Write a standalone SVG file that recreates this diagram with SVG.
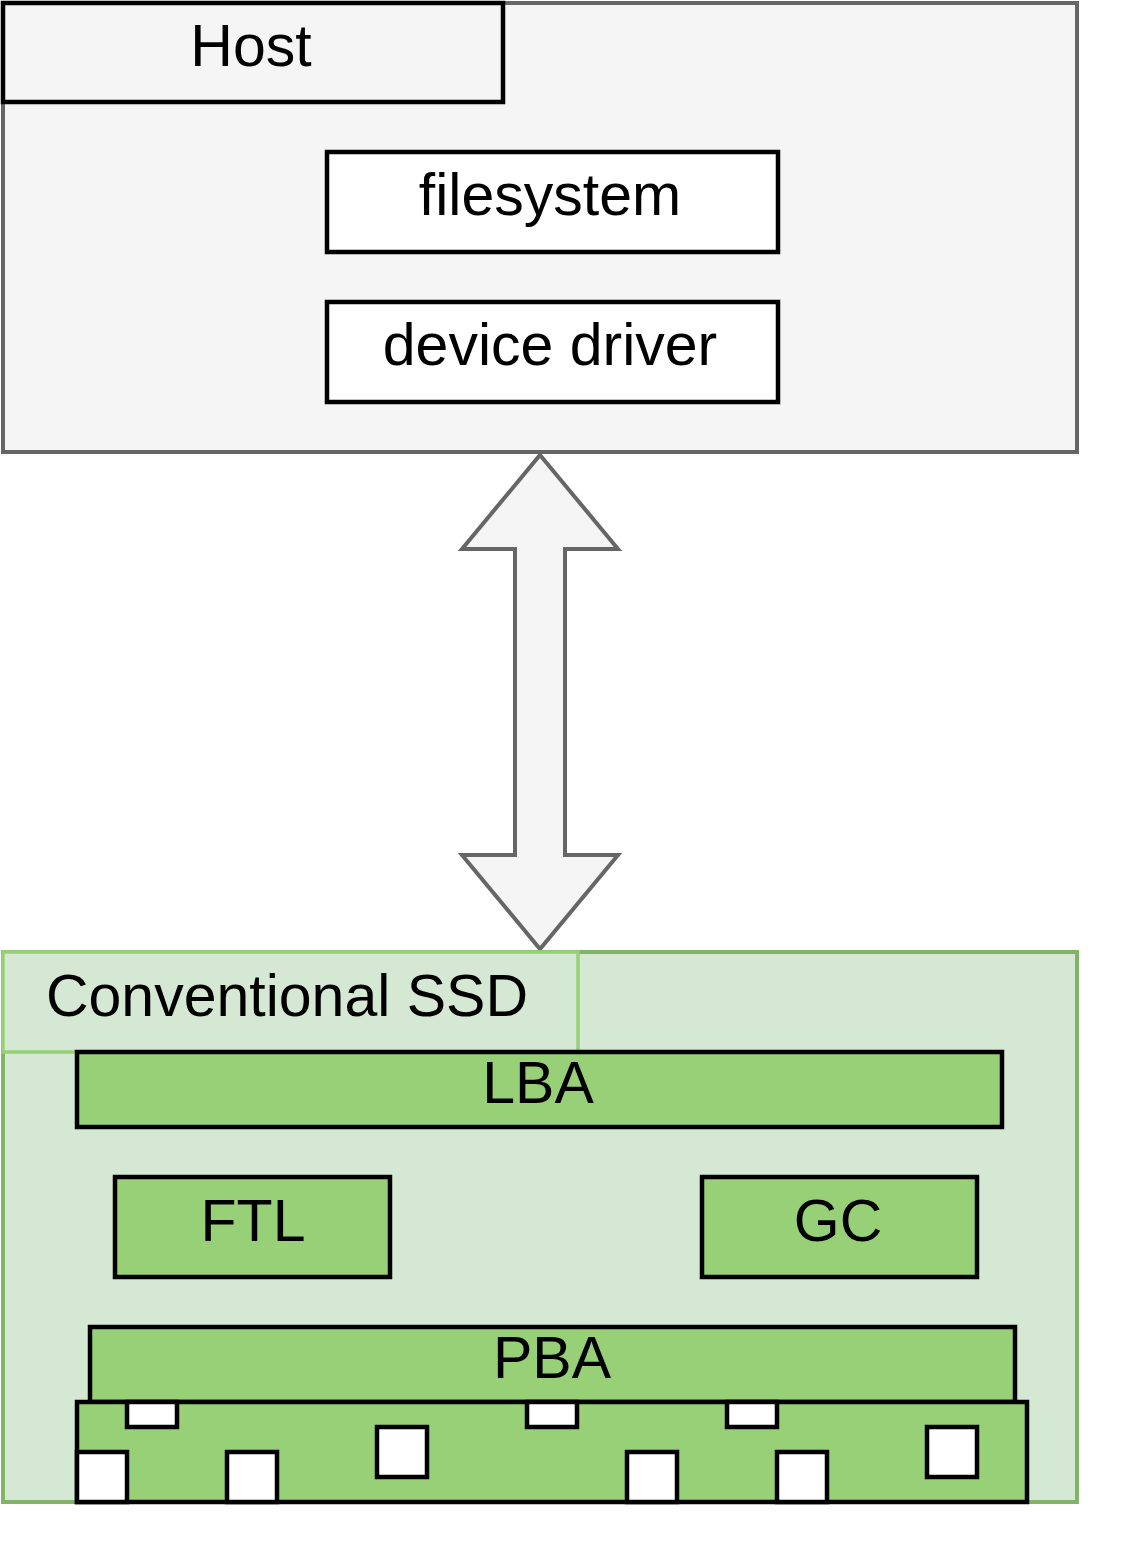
<svg xmlns="http://www.w3.org/2000/svg" width="1143" height="1542" viewBox="0 0 1143 1542">
<style>
text{font-family:"Liberation Sans",Arial,Helvetica,sans-serif;font-size:59px;fill:#000;text-anchor:middle}
.host{fill:#f5f5f5;stroke:#666;stroke-width:4}
.box{fill:#fff;stroke:#000;stroke-width:4.5}
.lbl{fill:#f5f5f5;stroke:#000;stroke-width:4.5}
.ssd{fill:#d5e8d4;stroke:#82b366;stroke-width:4}
.ssdl{fill:#d5e8d4;stroke:#97d077;stroke-width:3.5}
.g{fill:#97d077;stroke:#000;stroke-width:4.5}
.sq{fill:#fff;stroke:#000;stroke-width:4.5}
</style>
<rect width="1143" height="1542" fill="#fff"/>
<g id="host">
<rect class="host" x="3" y="3" width="1074" height="449"/>
</g>
<g id="host-label">
<rect class="lbl" x="3" y="3" width="500" height="99"/>
<text x="251" y="66">Host</text>
</g>
<g id="filesystem">
<rect class="box" x="327" y="152" width="451" height="100"/>
<text x="550" y="215">filesystem</text>
</g>
<g id="device-driver">
<rect class="box" x="327" y="302" width="451" height="100"/>
<text x="550" y="365">device driver</text>
</g>
<g id="connectors">
<path d="M540,455 L618,549 L565,549 L565,855 L618,855 L540,949 L462,855 L515,855 L515,549 L462,549 Z" fill="#f5f5f5" stroke="#666" stroke-width="4" stroke-linejoin="miter"/>
</g>
<g id="ssd">
<rect class="ssd" x="3" y="952" width="1074" height="550"/>
</g>
<g id="ssd-label">
<rect class="ssdl" x="3" y="952" width="575" height="100"/>
<text x="287" y="1016">Conventional SSD</text>
</g>
<g id="lba">
<rect class="g" x="77" y="1052" width="925" height="75"/>
<text x="538" y="1103">LBA</text>
</g>
<g id="ftl">
<rect class="g" x="115" y="1177" width="275" height="100"/>
<text x="253" y="1241">FTL</text>
</g>
<g id="gc">
<rect class="g" x="702" y="1177" width="275" height="100"/>
<text x="838" y="1241">GC</text>
</g>
<g id="pba">
<rect class="g" x="90" y="1327" width="925" height="75"/>
<text x="552" y="1378">PBA</text>
</g>
<g id="flash">
<rect class="g" x="77" y="1402" width="950" height="100"/>
<rect class="sq" x="127" y="1402" width="50" height="25"/>
<rect class="sq" x="527" y="1402" width="50" height="25"/>
<rect class="sq" x="727" y="1402" width="50" height="25"/>
<rect class="sq" x="377" y="1427" width="50" height="50"/>
<rect class="sq" x="927" y="1427" width="50" height="50"/>
<rect class="sq" x="77" y="1452" width="50" height="50"/>
<rect class="sq" x="227" y="1452" width="50" height="50"/>
<rect class="sq" x="627" y="1452" width="50" height="50"/>
<rect class="sq" x="777" y="1452" width="50" height="50"/>
</g>
</svg>
